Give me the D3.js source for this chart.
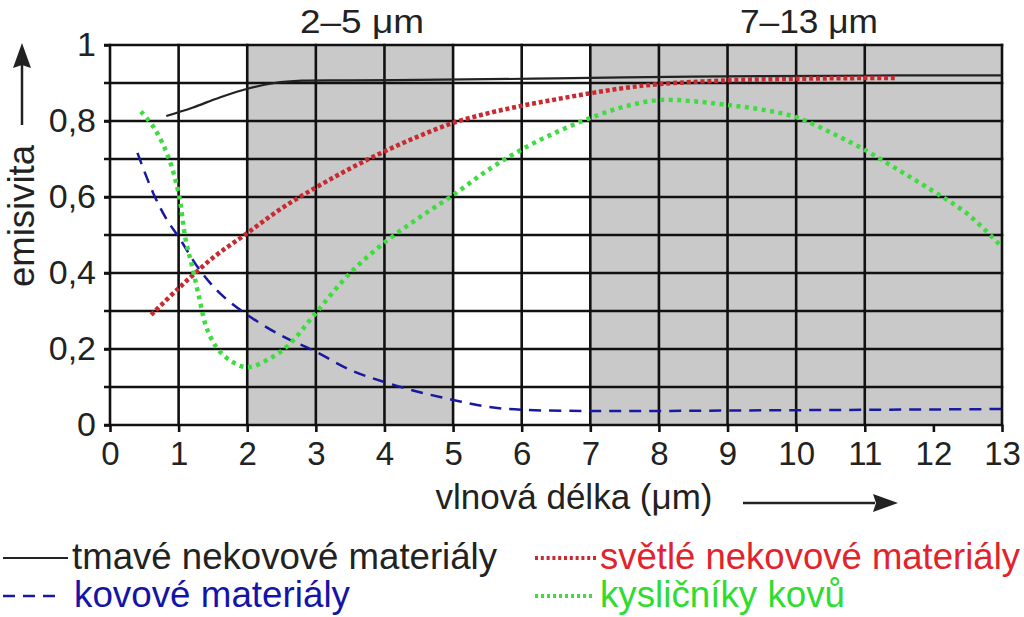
<!DOCTYPE html>
<html>
<head>
<meta charset="utf-8">
<script src="https://cdn.jsdelivr.net/npm/d3@7"></script>
<style>
  html, body { margin: 0; padding: 0; background: #fff; }
  svg { display: block; font-family: "Liberation Sans", Arial, sans-serif; }
</style>
</head>
<body>
<svg id="chart" width="1024" height="617"></svg>
<script>
// ---- data ----
const xTicks = [0,1,2,3,4,5,6,7,8,9,10,11,12,13];
const xGridValues = [0,1,2,3,4,5,6,7,8,9,10,11,13];
const yTicks = [0,0.2,0.4,0.6,0.8,1];
const yGridValues = [0,0.1,0.2,0.3,0.4,0.5,0.6,0.7,0.8,0.9,1];
const yTickLabels = ["0","0,2","0,4","0,6","0,8","1"];
const bands = [[2,5,"2–5 μm"],[7,13,"7–13 μm"]];

const tmaveX = [0.82,1.2,1.6,2.0,2.4,2.8,3.5,4.5,5.5,6.5,7.5,8.5,9.5,10.5,11.5,12.5,13];
const tmaveY = [0.813,0.835,0.862,0.885,0.9,0.906,0.907,0.908,0.91,0.912,0.915,0.917,0.918,0.919,0.92,0.92,0.92];

const svetleX = [0.6,1.0,1.5,2.0,2.5,3.0,3.5,4.0,4.5,5.0,5.5,6.0,6.5,7.0,7.5,8.0,9.0,10.0,11.0,11.45];
const svetleY = [0.29,0.36,0.44,0.505,0.57,0.625,0.675,0.72,0.76,0.795,0.82,0.84,0.857,0.873,0.887,0.897,0.907,0.911,0.913,0.913];

const kovoveX = [0.4,0.63,0.83,1.0,1.3,1.6,2.0,2.5,3.0,3.5,4.0,4.5,5.0,5.5,6.0,7.0,8.0,9.0,10.0,11.0,12.0,13.0];
const kovoveY = [0.716,0.61,0.54,0.495,0.41,0.347,0.29,0.235,0.193,0.145,0.113,0.087,0.066,0.048,0.04,0.037,0.037,0.038,0.039,0.04,0.041,0.042];

const kyslX = [0.45,0.65,0.85,1.0,1.1,1.2,1.3,1.4,1.55,1.75,2.0,2.3,2.6,3.0,3.5,4.0,4.5,5.0,5.5,6.0,6.5,7.0,7.5,8.0,8.5,9.0,9.5,10.0,10.5,11.0,11.5,12.0,12.5,13.0];
const kyslY = [0.825,0.78,0.705,0.61,0.49,0.415,0.335,0.26,0.205,0.17,0.152,0.172,0.21,0.295,0.4,0.48,0.545,0.605,0.67,0.725,0.77,0.808,0.838,0.855,0.852,0.842,0.83,0.81,0.77,0.724,0.67,0.615,0.555,0.468];

const seriesNames = ["tmavé nekovové materiály","kovové materiály","světlé nekovové materiály","kysličníky kovů"];

// ---- layout ----
const svg = d3.select("#chart");
const x = d3.scaleLinear().domain([0,13]).range([110,1002]);
const y = d3.scaleLinear().domain([0,1]).range([425,45]);

// gray bands
svg.append("g").selectAll("rect").data(bands).join("rect")
  .attr("x", d => x(d[0])).attr("y", y(1))
  .attr("width", d => x(d[1]) - x(d[0])).attr("height", y(0) - y(1))
  .attr("fill", "#c9c9c9");

// band titles
svg.append("g").selectAll("text").data(bands).join("text")
  .attr("x", (d,i) => i === 0 ? 362 : 809)
  .attr("y", 33)
  .attr("text-anchor", "middle")
  .attr("font-size", 34)
  .attr("fill", "#222")
  .attr("textLength", (d,i) => i === 0 ? 124 : 138)
  .attr("lengthAdjust", "spacingAndGlyphs")
  .text(d => d[2]);

// grid
const grid = svg.append("g").attr("stroke", "#111").attr("stroke-width", 2.6);
grid.selectAll("line.h").data(yGridValues).join("line").attr("class","h")
  .attr("x1", 104).attr("x2", x(13) + 1.3)
  .attr("y1", d => y(d)).attr("y2", d => y(d));
grid.selectAll("line.v").data(xGridValues).join("line").attr("class","v")
  .attr("x1", d => x(d)).attr("x2", d => x(d))
  .attr("y1", y(1) - 1.3).attr("y2", y(0));

// axes
const fmt = d => yTickLabels[yTicks.indexOf(d)];
const xAxis = svg.append("g").attr("transform", `translate(0,${y(0)})`)
  .call(d3.axisBottom(x).tickValues(xTicks).tickSize(7).tickPadding(10).tickFormat(d3.format("d")));
xAxis.select(".domain").remove();
xAxis.selectAll(".tick line").attr("stroke", "#111").attr("stroke-width", 2.6);
xAxis.selectAll(".tick text").attr("font-size", 33).attr("fill", "#222")
  .attr("font-family", "'Liberation Sans', Arial, sans-serif");

const yAxis = svg.append("g").attr("transform", `translate(${x(0)},0)`)
  .call(d3.axisLeft(y).tickValues(yTicks).tickSize(6).tickPadding(8).tickFormat(fmt));
yAxis.select(".domain").remove();
yAxis.selectAll(".tick line").attr("stroke", "#111").attr("stroke-width", 2.6);
yAxis.selectAll(".tick text").attr("font-size", 34).attr("fill", "#222")
  .attr("font-family", "'Liberation Sans', Arial, sans-serif");

// curves
const line = d3.line().x(d => x(d[0])).y(d => y(d[1])).curve(d3.curveCatmullRom.alpha(0.5));
const zip = (a, b) => a.map((v, i) => [v, b[i]]);
const curves = svg.append("g").attr("fill", "none");
curves.append("path").attr("d", line(zip(kovoveX, kovoveY)))
  .attr("stroke", "#1818a0").attr("stroke-width", 2.5).attr("stroke-dasharray", "12,8");
curves.append("path").attr("d", line(zip(tmaveX, tmaveY)))
  .attr("stroke", "#222").attr("stroke-width", 2.2);
curves.append("path").attr("d", line(zip(svetleX, svetleY)))
  .attr("stroke", "#c92a30").attr("stroke-width", 4.5).attr("stroke-dasharray", "4,2.8");
curves.append("path").attr("d", line(zip(kyslX, kyslY)))
  .attr("stroke", "#3fdc3f").attr("stroke-width", 4.5).attr("stroke-dasharray", "4,4.5");

// axis titles
svg.append("text").attr("x", 574).attr("y", 509).attr("text-anchor", "middle")
  .attr("font-size", 35).attr("fill", "#222")
  .attr("textLength", 277).attr("lengthAdjust", "spacingAndGlyphs")
  .text("vlnová délka (μm)");
svg.append("text").attr("transform", "translate(34,216) rotate(-90)").attr("text-anchor", "middle")
  .attr("font-size", 37).attr("fill", "#222")
  .attr("textLength", 142).attr("lengthAdjust", "spacingAndGlyphs")
  .text("emisivita");

// arrows
svg.append("line").attr("x1", 743).attr("x2", 875).attr("y1", 503).attr("y2", 503)
  .attr("stroke", "#222").attr("stroke-width", 2.5);
svg.append("path").attr("d", "M898,503 L873,494 L876,503 L873,512 Z").attr("fill", "#222");
svg.append("line").attr("x1", 22).attr("x2", 22).attr("y1", 125).attr("y2", 65)
  .attr("stroke", "#222").attr("stroke-width", 2.5);
svg.append("path").attr("d", "M22,43 L13,68 L22,65 L31,68 Z").attr("fill", "#222");

// legend
const legendItems = [
  {name: seriesNames[0], lx: 3, lw: 65, ty: 569, tx: 72, tw: 425, stroke: "#222", sw: 2.2, dash: null, color: "#222"},
  {name: seriesNames[1], lx: 3, lw: 60, ty: 607, tx: 74, tw: 276, stroke: "#1818a0", sw: 2.4, dash: "12,8", color: "#1414a8"},
  {name: seriesNames[2], lx: 535, lw: 63, ty: 569, tx: 600, tw: 420, stroke: "#c92a30", sw: 4, dash: "3,2.8", color: "#e2232b"},
  {name: seriesNames[3], lx: 535, lw: 60, ty: 607, tx: 600, tw: 245, stroke: "#3fdc3f", sw: 4, dash: "3,3", color: "#2fdc2f"}
];
const lg = svg.append("g");
legendItems.forEach(d => {
  lg.append("line").attr("x1", d.lx).attr("x2", d.lx + d.lw)
    .attr("y1", d.ty - 11).attr("y2", d.ty - 11)
    .attr("stroke", d.stroke).attr("stroke-width", d.sw)
    .attr("stroke-dasharray", d.dash);
  lg.append("text").attr("x", d.tx).attr("y", d.ty)
    .attr("font-size", 36).attr("fill", d.color)
    .attr("textLength", d.tw).attr("lengthAdjust", "spacingAndGlyphs")
    .text(d.name);
});
</script>
</body>
</html>
